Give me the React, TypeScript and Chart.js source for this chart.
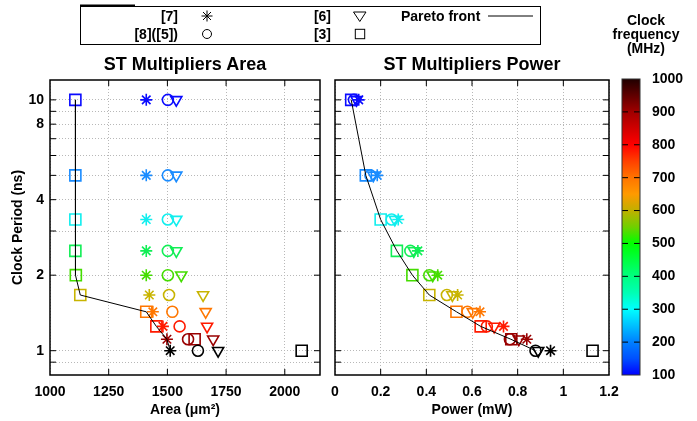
import React, { useEffect, useRef } from 'react';
import { Chart, registerables } from 'chart.js';
Chart.register(...registerables);

// ---------- data ----------
const freqMHz = [100, 200, 300, 400, 500, 600, 700, 800, 900, 1000];
const periodNs = [10, 5, 3.333, 2.5, 2, 1.667, 1.429, 1.25, 1.111, 1];
const freqColors = ['#0a0aff', '#1a8cff', '#10eeee', '#11ee55', '#44dd00', '#c8b400', '#ff7700', '#ff1a00', '#990000', '#000000'];

// Area (um^2) per method
const area7 = [1410, 1410, 1410, 1410, 1410, 1423, 1438, 1481, 1498, 1512];
const area8 = [1502, 1502, 1502, 1502, 1502, 1507, 1521, 1552, 1588, 1630];
const area6 = [1538, 1538, 1538, 1538, 1559, 1652, 1663, 1669, 1695, 1716];
const area3 = [1108, 1108, 1108, 1108, 1110, 1129, 1410, 1453, 1616, 2072];
const areaPareto = [1108, 1108, 1108, 1108, 1110, 1129, 1410, 1453, 1498, 1512];

// Power (mW) per method
const power7 = [0.104, 0.185, 0.277, 0.363, 0.45, 0.537, 0.635, 0.738, 0.84, 0.944];
const power8 = [0.083, 0.155, 0.248, 0.33, 0.413, 0.49, 0.58, 0.665, 0.766, 0.878];
const power6 = [0.094, 0.168, 0.262, 0.345, 0.428, 0.514, 0.603, 0.697, 0.805, 0.89];
const power3 = [0.071, 0.135, 0.2, 0.271, 0.339, 0.413, 0.532, 0.638, 0.772, 1.128];
const powerPareto = [0.071, 0.135, 0.2, 0.271, 0.339, 0.413, 0.532, 0.638, 0.77, 0.878];

// ticks
const areaTicks = [1000, 1250, 1500, 1750, 2000];
const powerTicks = [0, 0.2, 0.4, 0.6, 0.8, 1, 1.2];
const periodGrid = [0.9, 1, 2, 3, 4, 5, 6, 7, 8, 9, 10];
const periodLabels = [1, 2, 4, 8, 10];
const cbTicks = [100, 200, 300, 400, 500, 600, 700, 800, 900, 1000];
const cbStopValues = [100, 150, 200, 250, 300, 350, 400, 450, 500, 550, 600, 650, 700, 750, 800, 850, 900, 950, 1000];
const cbStopColors = ['#0000ff', '#0050ff', '#0080ff', '#00c0ff', '#00ffff', '#00ffb4', '#00ff80', '#00ff40', '#00ff00', '#70d000', '#c0b000', '#ff9a00', '#ff7400', '#ff4000', '#ff0000', '#d00000', '#a00000', '#600000', '#200000'];

const FONT = '"Liberation Sans", Arial, Helvetica, sans-serif';

const methodStyles = [
  { style: 'star', radius: 6, rotation: 0 },
  { style: 'circle', radius: 5.5, rotation: 0 },
  { style: 'triangle', radius: 6.4, rotation: 180 },
  { style: 'rect', radius: 7.8, rotation: 0 },
];

function framePlugin(xVals: number[] | null, yVals: number[] | null, tickLen: number) {
  return {
    id: 'frame',
    afterDraw(chart: any) {
      const { ctx, chartArea: a, scales } = chart;
      ctx.save();
      ctx.strokeStyle = '#000';
      ctx.lineWidth = 1;
      ctx.beginPath();
      if (xVals) {
        for (const v of xVals) {
          const px = scales.x.getPixelForValue(v);
          if (px <= a.left + 1 || px >= a.right - 1) continue;
          ctx.moveTo(px, a.bottom); ctx.lineTo(px, a.bottom - tickLen);
          ctx.moveTo(px, a.top); ctx.lineTo(px, a.top + tickLen);
        }
      }
      if (yVals) {
        for (const v of yVals) {
          const py = scales.y.getPixelForValue(v);
          if (py <= a.top + 1 || py >= a.bottom - 1) continue;
          ctx.moveTo(a.left, py); ctx.lineTo(a.left + tickLen, py);
          ctx.moveTo(a.right, py); ctx.lineTo(a.right - tickLen, py);
        }
      }
      ctx.stroke();
      ctx.lineWidth = 1.5;
      ctx.strokeRect(a.left, a.top, a.right - a.left, a.bottom - a.top);
      ctx.restore();
    },
  };
}

function buildScatter(canvas: HTMLCanvasElement, series: number[][], pareto: number[], opts: any) {
  const datasets: any[] = [
    {
      data: pareto.map((x, i) => ({ x, y: periodNs[i] })),
      showLine: true,
      borderColor: '#000',
      borderWidth: 1,
      pointRadius: 0,
    },
  ];
  series.forEach((vals, k) => {
    const st = methodStyles[k];
    datasets.push({
      data: vals.map((x, i) => ({ x, y: periodNs[i] })),
      showLine: false,
      pointStyle: st.style,
      pointRadius: st.radius,
      pointRotation: st.rotation,
      pointBorderWidth: 1.6,
      pointBorderColor: freqColors,
      pointBackgroundColor: 'rgba(0,0,0,0)',
    });
  });
  const tickFont = { family: FONT, size: 14, weight: 'bold' as const };
  return new Chart(canvas, {
    type: 'scatter',
    data: { datasets },
    plugins: [framePlugin(opts.xTicks, periodGrid, 6)],
    options: {
      animation: false,
      responsive: false,
      devicePixelRatio: 1,
      events: [],
      layout: { padding: opts.padding },
      plugins: { legend: { display: false }, tooltip: { enabled: false } },
      scales: {
        x: {
          type: 'linear',
          position: 'bottom',
          min: opts.xMin,
          max: opts.xMax,
          afterBuildTicks: (s: any) => { s.ticks = opts.xTicks.map((v: number) => ({ value: v })); },
          afterFit: (s: any) => { s.height = 46; },
          ticks: {
            autoSkip: false, maxRotation: 0, padding: 9, color: '#000', font: tickFont,
            callback: (v: any) => String(Math.round(Number(v) * 10) / 10),
          },
          grid: { color: '#b8b8b8', lineWidth: 1, drawTicks: false },
          border: { display: false, dash: [1, 2] },
          title: { display: true, text: opts.xTitle, color: '#000', font: tickFont, padding: { top: 0, bottom: 2 } },
        },
        y: {
          type: 'logarithmic',
          min: 0.8,
          max: 12,
          afterBuildTicks: (s: any) => { s.ticks = periodGrid.map((v) => ({ value: v })); },
          afterFit: (s: any) => { s.width = opts.yWidth; },
          ticks: {
            display: opts.showY, autoSkip: false, padding: 6, color: '#000', font: tickFont,
            callback: (v: any) => (periodLabels.includes(Number(v)) ? String(v) : ''),
          },
          grid: { color: '#b8b8b8', lineWidth: 1, drawTicks: false },
          border: { display: false, dash: [1, 2] },
          title: { display: opts.showY, text: 'Clock Period (ns)', color: '#000', font: tickFont, padding: { top: 10, bottom: 0 } },
        },
      },
    } as any,
  });
}

function buildColorbar(canvas: HTMLCanvasElement) {
  return new Chart(canvas, {
    type: 'bar',
    data: {
      labels: ['f'],
      datasets: [
        {
          data: [[cbTicks[0], cbTicks[cbTicks.length - 1]]] as any,
          borderWidth: 0,
          barPercentage: 1,
          categoryPercentage: 1,
          backgroundColor: (c: any) => {
            const chart = c.chart;
            if (!chart.chartArea) return '#000';
            const ys = chart.scales.y;
            const g = chart.ctx.createLinearGradient(0, ys.getPixelForValue(100), 0, ys.getPixelForValue(1000));
            cbStopValues.forEach((v, i) => g.addColorStop((v - 100) / 900, cbStopColors[i]));
            return g;
          },
        },
      ],
    },
    plugins: [
      {
        id: 'cbframe',
        afterDraw(chart: any) {
          const { ctx, chartArea: a, scales } = chart;
          ctx.save();
          ctx.strokeStyle = '#000';
          ctx.lineWidth = 1;
          ctx.beginPath();
          for (const v of cbTicks) {
            const py = scales.y.getPixelForValue(v);
            if (py <= a.top + 1 || py >= a.bottom - 1) continue;
            ctx.moveTo(a.left, py); ctx.lineTo(a.left + 6, py);
            ctx.moveTo(a.right, py); ctx.lineTo(a.right - 6, py);
          }
          ctx.stroke();
          ctx.strokeStyle = '#333';
          ctx.strokeRect(a.left, a.top, a.right - a.left, a.bottom - a.top);
          ctx.restore();
        },
      },
    ],
    options: {
      animation: false,
      responsive: false,
      devicePixelRatio: 1,
      events: [],
      layout: { padding: { left: 622, right: 0, top: 79, bottom: 46 } },
      plugins: { legend: { display: false }, tooltip: { enabled: false } },
      scales: {
        x: { display: false },
        y: {
          position: 'right',
          min: 100,
          max: 1000,
          afterBuildTicks: (s: any) => { s.ticks = cbTicks.map((v) => ({ value: v })); },
          afterFit: (s: any) => { s.width = 57; },
          ticks: {
            autoSkip: false, padding: 12, color: '#000', font: { family: FONT, size: 14, weight: 'bold' },
            callback: (v: any) => String(v),
          },
          grid: { display: false, drawTicks: false },
          border: { display: false },
        },
      },
    } as any,
  });
}

export default function App() {
  const leftRef = useRef<HTMLCanvasElement>(null);
  const rightRef = useRef<HTMLCanvasElement>(null);
  const cbRef = useRef<HTMLCanvasElement>(null);

  useEffect(() => {
    const c1 = buildScatter(leftRef.current!, [area7, area8, area6, area3], areaPareto, {
      xMin: 1000, xMax: 2150, xTicks: areaTicks, xTitle: 'Area (μm²)', showY: true, yWidth: 50,
      padding: { left: 0, top: 80, right: 377, bottom: 0 },
    });
    const c2 = buildScatter(rightRef.current!, [power7, power8, power6, power3], powerPareto, {
      xMin: 0, xMax: 1.2, xTicks: powerTicks, xTitle: 'Power (mW)', showY: false, yWidth: 0,
      padding: { left: 335, top: 80, right: 88, bottom: 0 },
    });
    const c3 = buildColorbar(cbRef.current!);
    return () => { c1.destroy(); c2.destroy(); c3.destroy(); };
  }, []);

  const cv: React.CSSProperties = { position: 'absolute', left: 0, top: 0, width: 697, height: 421 };
  const txt = { fontFamily: FONT, fontWeight: 700, fill: '#000' } as any;

  return (
    <div style={{ position: 'fixed', left: 0, top: 0, width: 697, height: 421, background: '#fff', overflow: 'hidden' }}>
      <canvas ref={leftRef} width={697} height={421} style={cv} />
      <canvas ref={rightRef} width={697} height={421} style={cv} />
      <canvas ref={cbRef} width={697} height={421} style={cv} />
      <svg width={697} height={421} style={{ ...cv, pointerEvents: 'none' }}>
        {/* legend box */}
        <rect x={80.5} y={6.5} width={460} height={38} fill="none" stroke="#000" strokeWidth={1} />
        <line x1={80} y1={5.5} x2={135} y2={5.5} stroke="#000" strokeWidth={2} />
        <text x={178} y={21} textAnchor="end" fontSize={14} style={txt}>[7]</text>
        <text x={178} y={39} textAnchor="end" fontSize={14} style={txt}>[8]([5])</text>
        <text x={331} y={21} textAnchor="end" fontSize={14} style={txt}>[6]</text>
        <text x={331} y={39} textAnchor="end" fontSize={14} style={txt}>[3]</text>
        <text x={401} y={21} fontSize={14} style={txt}>Pareto front</text>
        <g stroke="#000" strokeWidth={1} fill="none">
          <line x1={207} y1={10.5} x2={207} y2={21.5} />
          <line x1={201.5} y1={16} x2={212.5} y2={16} />
          <line x1={203} y1={12} x2={211} y2={20} />
          <line x1={203} y1={20} x2={211} y2={12} />
          <circle cx={207} cy={34} r={4.5} />
          <polygon points="353.5,12 366,12 359.8,21.5" />
          <rect x={355.3} y={29.3} width={9.4} height={9.4} />
          <line x1={488} y1={16} x2={533} y2={16} />
        </g>
        {/* panel titles */}
        <text x={185} y={69.5} textAnchor="middle" fontSize={18} style={txt}>ST Multipliers Area</text>
        <text x={472} y={69.5} textAnchor="middle" fontSize={18} style={txt}>ST Multipliers Power</text>
        {/* colorbar title */}
        <text x={646} y={25} textAnchor="middle" fontSize={14} style={txt}>Clock</text>
        <text x={646} y={39} textAnchor="middle" fontSize={14} style={txt}>frequency</text>
        <text x={646} y={53} textAnchor="middle" fontSize={14} style={txt}>(MHz)</text>
      </svg>
    </div>
  );
}
